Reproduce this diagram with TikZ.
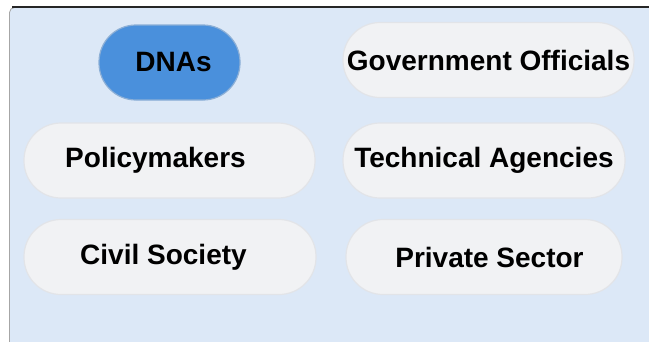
\documentclass[tikz,border=0pt]{standalone}
\usepackage{fontspec}
\setmainfont{Liberation Sans}
\usetikzlibrary{positioning}
\definecolor{panelblue}{HTML}{DCE8F7}
\definecolor{pillgrey}{HTML}{F1F2F4}
\definecolor{pilledge}{HTML}{E2E4E8}
\definecolor{dnablue}{HTML}{4A90DC}

\begin{document}
\begin{tikzpicture}[x=1pt,y=-1pt,
    pill/.style={draw=pilledge,line width=1.2pt,fill=pillgrey,rounded corners=37pt,
      minimum height=75pt,inner sep=0pt,font=\fontsize{28}{33}\selectfont\bfseries},
    keypill/.style={pill,fill=dnablue,draw=dnablue!85!black!60}]
\useasboundingbox (0,0) rectangle (649,341);
\fill[white] (0,0) rectangle (649,341);
\draw[fill=panelblue,draw=gray!70,line width=0.8pt,rounded corners=5pt] (9.5,7.5) rectangle (670,360);
\draw[gray!30!black,line width=2pt] (12,7) -- (649,7);
\node[keypill,minimum width=141pt] (dnas) at (169.5,62.5) {\kern8pt DNAs};
\node[pill,minimum width=291pt] (govt) at (488.5,60) {Government Officials};
\node[pill,minimum width=291pt] (policy) at (169.5,160.5) {Policymakers\kern28pt};
\node[pill,minimum width=282pt] (tech) at (484,160.5) {Technical Agencies};
\node[pill,minimum width=292pt] (civil) at (170,257) {Civil Society\kern13pt};
\node[pill,minimum width=276pt] (private) at (484,257) {\kern11pt Private Sector};
\end{tikzpicture}
\end{document}
